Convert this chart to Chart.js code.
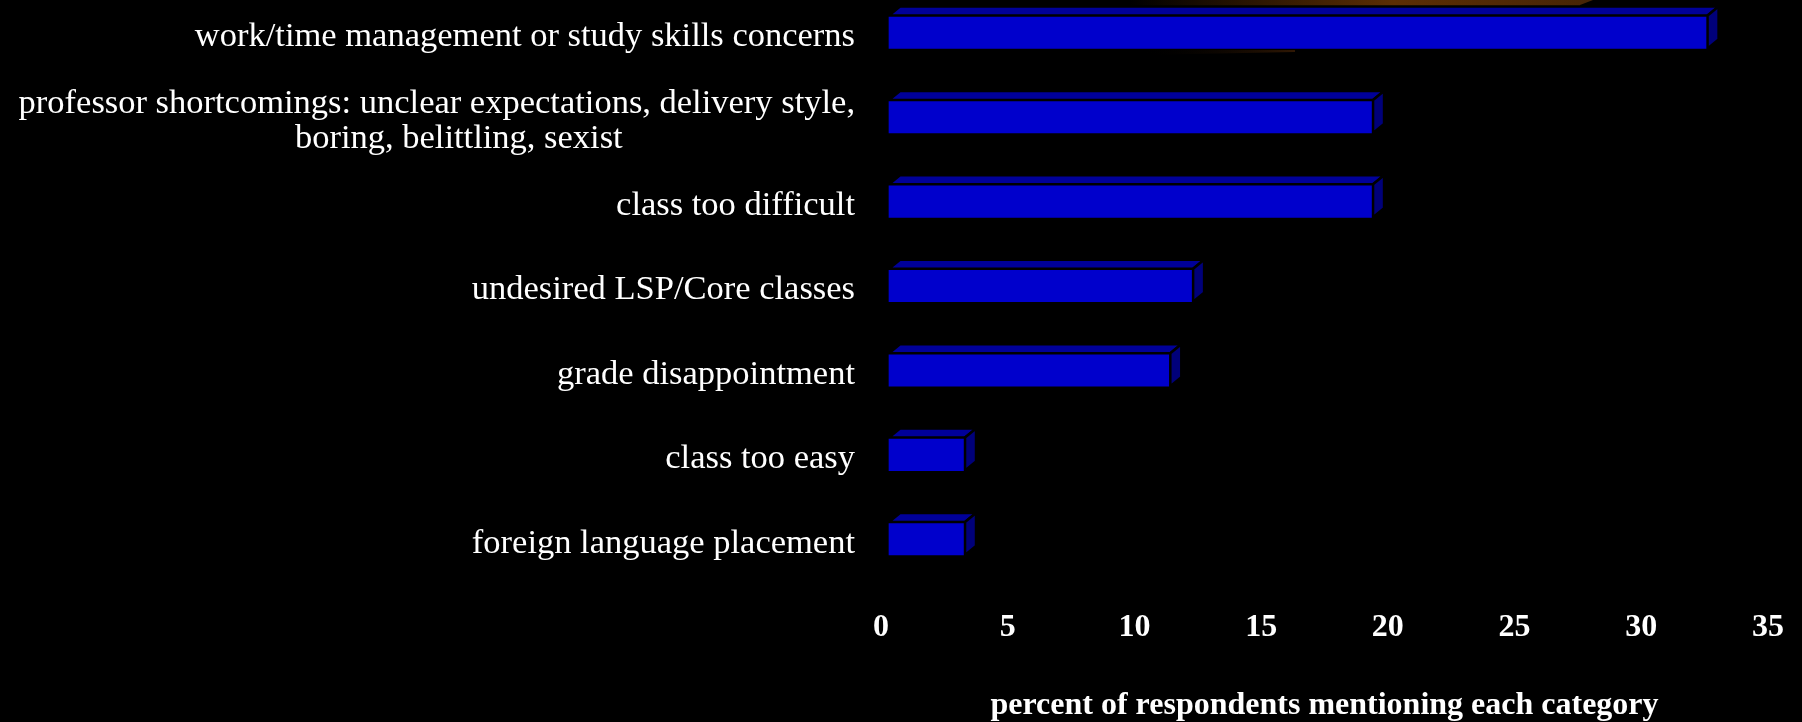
<!DOCTYPE html>
<html>
<head>
<meta charset="utf-8">
<script src="https://cdn.jsdelivr.net/npm/chart.js@4.4.1/dist/chart.umd.min.js"></script>
<style>
  html, body { margin: 0; padding: 0; background: #000; }
  #wrap { width: 1802px; height: 722px; position: relative; }
</style>
</head>
<body>
<div id="wrap"><canvas id="myChart"></canvas></div>
<script>
const categories = [
  'work/time management or study skills concerns',
  ['professor shortcomings: unclear expectations, delivery style,', 'boring, belittling, sexist'],
  'class too difficult',
  'undesired LSP/Core classes',
  'grade disappointment',
  'class too easy',
  'foreign language placement',
];

const percents = [32.3, 19.1, 19.1, 12.0, 11.1, 3.0, 3.0];

const tickValues = [0, 5, 10, 15, 20, 25, 30, 35];

// los dos espacios finales corren el titulo un poco a la izquierda, como en el original
const axisTitle = 'percent of respondents mentioning each category  ';

const FONT = "'Liberation Serif', 'Times New Roman', serif";

// profundidad de la barra 3D
const DX = 11;
const DY = 9;

// mancha marron detras de la primera barra
const smudge = {
  id: 'smudge',
  beforeDatasetsDraw(chart) {
    const ctx = chart.ctx;
    ctx.save();
    const g = ctx.createLinearGradient(1130, 0, 1600, 0);
    g.addColorStop(0, 'rgb(0,0,0)');
    g.addColorStop(0.56, 'rgb(92,46,4)');
    g.addColorStop(1, 'rgb(70,36,6)');
    ctx.fillStyle = g;
    ctx.beginPath();
    ctx.moveTo(1130, -5);
    ctx.lineTo(1606, -5);
    ctx.lineTo(1580, 5);
    ctx.lineTo(1580, 24);
    ctx.lineTo(1130, 24);
    ctx.closePath();
    ctx.fill();

    const g2 = ctx.createLinearGradient(1140, 0, 1295, 0);
    g2.addColorStop(0, 'rgba(0,0,0,0)');
    g2.addColorStop(1, 'rgb(48,24,4)');
    ctx.fillStyle = g2;
    ctx.beginPath();
    ctx.moveTo(1140, 50);
    ctx.lineTo(1295, 50);
    ctx.lineTo(1295, 52);
    ctx.lineTo(1140, 55);
    ctx.closePath();
    ctx.fill();
    ctx.restore();
  }
};

// caras superior y lateral de cada barra
const bar3d = {
  id: 'bar3d',
  afterDatasetsDraw(chart) {
    const ctx = chart.ctx;
    const meta = chart.getDatasetMeta(0);
    ctx.save();
    ctx.lineWidth = 2.5;
    ctx.strokeStyle = '#000';
    meta.data.forEach(bar => {
      const p = bar.getProps(['x', 'y', 'base', 'height'], true);
      const x0 = p.base, x1 = p.x;
      const top = p.y - p.height / 2, bot = p.y + p.height / 2;

      ctx.beginPath();
      ctx.moveTo(x0, top);
      ctx.lineTo(x0 + DX, top - DY);
      ctx.lineTo(x1 + DX, top - DY);
      ctx.lineTo(x1, top);
      ctx.closePath();
      ctx.fillStyle = '#000099';
      ctx.fill();
      ctx.stroke();

      ctx.beginPath();
      ctx.moveTo(x1, top);
      ctx.lineTo(x1 + DX, top - DY);
      ctx.lineTo(x1 + DX, bot - DY);
      ctx.lineTo(x1, bot);
      ctx.closePath();
      ctx.fillStyle = '#00007A';
      ctx.fill();
      ctx.stroke();
    });
    ctx.restore();
  }
};

// etiquetas de categoria (alineadas a la derecha, la de dos lineas centrada)
const catLabels = {
  id: 'catLabels',
  afterDraw(chart) {
    const ctx = chart.ctx;
    const yScale = chart.scales.y;
    const right = chart.chartArea.left - 34;
    const lineH = 35.6;
    ctx.save();
    ctx.fillStyle = '#fff';
    ctx.font = '34.5px ' + FONT;
    ctx.textBaseline = 'middle';
    categories.forEach((lab, i) => {
      const y = yScale.getPixelForValue(i) + 5;
      if (Array.isArray(lab)) {
        const w1 = ctx.measureText(lab[0]).width;
        const cx = right - w1 / 2 + 22;
        const y0 = y - lineH * (lab.length - 1) / 2;
        ctx.textAlign = 'right';
        ctx.fillText(lab[0], right, y0);
        ctx.textAlign = 'center';
        for (let k = 1; k < lab.length; k++) {
          ctx.fillText(lab[k], cx, y0 + lineH * k);
        }
      } else {
        ctx.textAlign = 'right';
        ctx.fillText(lab, right, y);
      }
    });
    ctx.restore();
  }
};

const data = {
  labels: categories,
  datasets: [{
    label: 'percent',
    data: percents,
    backgroundColor: '#0000CC',
    borderWidth: 0,
    barThickness: 33,
    clip: false,
  }]
};

const config = {
  type: 'bar',
  data,
  options: {
    indexAxis: 'y',
    responsive: true,
    maintainAspectRatio: false,
    animation: false,
    devicePixelRatio: 1,
    layout: {
      padding: { left: 889, right: 26, top: 32, bottom: 0 }
    },
    plugins: {
      legend: { display: false },
      tooltip: { enabled: false }
    },
    scales: {
      y: {
        type: 'category',
        display: false,
        offset: false,
      },
      x: {
        min: 0,
        max: 35,
        afterBuildTicks: axis => {
          axis.ticks = tickValues.map(v => ({ value: v }));
        },
        afterFit: axis => {
          axis.height = 183.5;
          axis.paddingRight = 0;
          axis.paddingLeft = 0;
        },
        grid: { display: false, drawTicks: false, tickLength: 0 },
        border: { display: false },
        ticks: {
          color: '#fff',
          font: { family: FONT, size: 32, weight: 'bold' },
          padding: 70,
          labelOffset: -8,
          maxRotation: 0,
        },
        title: {
          display: true,
          text: axisTitle,
          color: '#fff',
          font: { family: FONT, size: 32, weight: 'bold' },
          padding: { top: 38, bottom: -3 },
        }
      }
    }
  },
  plugins: [smudge, bar3d, catLabels]
};

const myChart = new Chart(
  document.getElementById('myChart'),
  config
);
</script>
</body>
</html>
